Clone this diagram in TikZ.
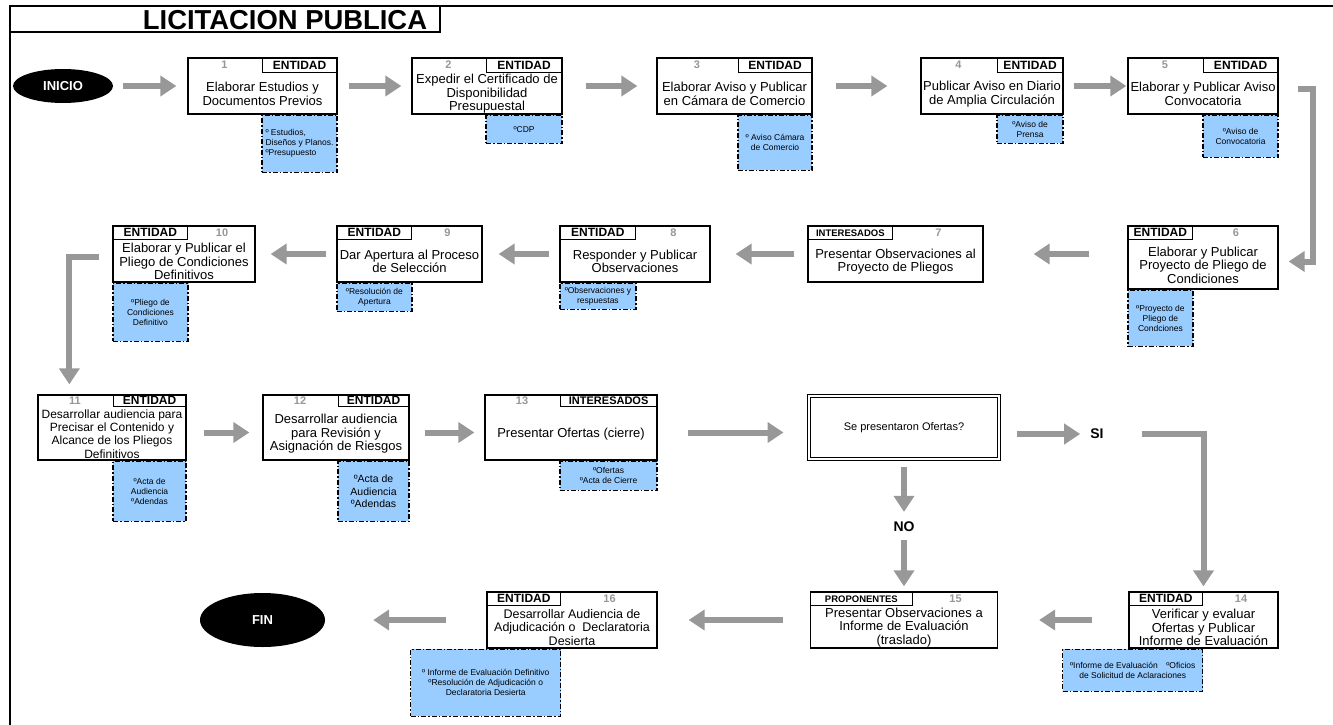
\documentclass[tikz,border=0pt]{standalone}
\usepackage{fontspec}
\setmainfont{Liberation Sans}
\usetikzlibrary{positioning,arrows.meta,shapes.geometric,backgrounds}
\definecolor{notefill}{RGB}{153,204,255}
\definecolor{arrgray}{RGB}{152,152,152}
\definecolor{numgray}{RGB}{150,150,150}

\begin{document}
\begin{tikzpicture}[x=1pt,y=-1pt,
    box/.style={draw,line width=1.3pt,inner sep=0pt},
    role/.style={draw,line width=1pt,inner sep=0pt,minimum height=14pt,font=\bfseries\fontsize{12}{12}\selectfont},
    num/.style={inner sep=0pt,minimum height=14pt,text=numgray,font=\bfseries\fontsize{11}{12}\selectfont},
    txt/.style={align=center,inner sep=0pt,font=\fontsize{13}{13.5}\selectfont},
    note/.style={draw,fill=notefill,line width=1.2pt,dash pattern=on 5pt off 2pt on 1.5pt off 2pt,inner sep=1pt,align=center,font=\fontsize{8.5}{10}\selectfont},
    flow/.style={draw=arrgray,line width=6pt,-{Triangle[length=16pt,width=20pt]}},
    term/.style={ellipse,fill=black,text=white,inner sep=0pt,font=\bfseries\fontsize{13}{13}\selectfont},
    answer/.style={inner sep=0pt,font=\bfseries\fontsize{14}{14}\selectfont}]
  \useasboundingbox (0,0) rectangle (1333,725);
  \draw[line width=2.5pt] (10,725) -- (10,6) -- (1333,6);
  \draw[line width=2pt] (10,32) -- (440,32) -- (440,6);
  \node[font=\bfseries\fontsize{27.4}{27.4}\selectfont] (title) at (285,20) {LICITACION PUBLICA};

  \node[term,minimum width=100pt,minimum height=34pt] (inicio) at (63,86) {INICIO};

  \node[box,minimum width=149pt,minimum height=56pt] (b1) at (262.5,86) {};
  \node[role,minimum width=75pt,minimum height=15pt,anchor=north east] (r1) at (b1.north east) {ENTIDAD};
  \path (b1.north west) -- (r1.north west) node[num,midway,anchor=north,minimum height=15pt] (k1) {1};
  \path (r1.south -| b1.center) -- (b1.south) node[txt,midway] (t1) {Elaborar Estudios y\\Documentos Previos};

  \node[box,minimum width=150pt,minimum height=56pt] (b2) at (487,86) {};
  \node[role,minimum width=76pt,minimum height=15pt,anchor=north east] (r2) at (b2.north east) {ENTIDAD};
  \path (b2.north west) -- (r2.north west) node[num,midway,anchor=north,minimum height=15pt] (k2) {2};
  \path (r2.south -| b2.center) -- (b2.south) node[txt,midway] (t2) {Expedir el Certificado de\\Disponibilidad\\Presupuestal};

  \node[box,minimum width=155pt,minimum height=56pt] (b3) at (734.5,86) {};
  \node[role,minimum width=74pt,minimum height=15pt,anchor=north east] (r3) at (b3.north east) {ENTIDAD};
  \path (b3.north west) -- (r3.north west) node[num,midway,anchor=north,minimum height=15pt] (k3) {3};
  \path (r3.south -| b3.center) -- (b3.south) node[txt,midway] (t3) {Elaborar Aviso y Publicar\\en Cámara de Comercio};

  \node[box,minimum width=142pt,minimum height=56pt] (b4) at (992,86) {};
  \node[role,minimum width=66pt,minimum height=15pt,anchor=north east] (r4) at (b4.north east) {ENTIDAD};
  \path (b4.north west) -- (r4.north west) node[num,midway,anchor=north,minimum height=15pt] (k4) {4};
  \path (r4.south -| b4.center) -- (b4.south) node[txt,midway] (t4) {Publicar Aviso en Diario\\de Amplia Circulación};

  \node[box,minimum width=150pt,minimum height=56pt] (b5) at (1203,86) {};
  \node[role,minimum width=75pt,minimum height=15pt,anchor=north east] (r5) at (b5.north east) {ENTIDAD};
  \path (b5.north west) -- (r5.north west) node[num,midway,anchor=north,minimum height=15pt] (k5) {5};
  \path (r5.south -| b5.center) -- (b5.south) node[txt,midway] (t5) {Elaborar y Publicar Aviso\\Convocatoria};

  \node[box,minimum width=150pt,minimum height=63pt] (b6) at (1203,257.5) {};
  \node[role,minimum width=65pt,anchor=north west] (r6) at (b6.north west) {ENTIDAD};
  \path (r6.north east) -- (b6.north east) node[num,midway,anchor=north] (k6) {6};
  \path (r6.south -| b6.center) -- (b6.south) node[txt,midway] (t6) {Elaborar y Publicar\\Proyecto de Pliego de\\Condiciones};

  \node[box,minimum width=175pt,minimum height=56pt] (b7) at (895.5,254) {};
  \node[role,minimum width=85pt,anchor=north west,font=\bfseries\fontsize{9.5}{10}\selectfont] (r7) at (b7.north west) {INTERESADOS};
  \path (r7.north east) -- (b7.north east) node[num,midway,anchor=north] (k7) {7};
  \path (r7.south -| b7.center) -- (b7.south) node[txt,midway] (t7) {Presentar Observaciones al\\Proyecto de Pliegos};

  \node[box,minimum width=150pt,minimum height=56pt] (b8) at (635,254) {};
  \node[role,minimum width=76pt,anchor=north west] (r8) at (b8.north west) {ENTIDAD};
  \path (r8.north east) -- (b8.north east) node[num,midway,anchor=north] (k8) {8};
  \path (r8.south -| b8.center) -- (b8.south) node[txt,midway] (t8) {Responder y Publicar\\Observaciones};

  \node[box,minimum width=145pt,minimum height=56pt] (b9) at (409.5,254) {};
  \node[role,minimum width=75pt,anchor=north west] (r9) at (b9.north west) {ENTIDAD};
  \path (r9.north east) -- (b9.north east) node[num,midway,anchor=north] (k9) {9};
  \path (r9.south -| b9.center) -- (b9.south) node[txt,midway] (t9) {Dar Apertura al Proceso\\de Selección};

  \node[box,minimum width=142pt,minimum height=56pt] (b10) at (184,254) {};
  \node[role,minimum width=75pt,anchor=north west] (r10) at (b10.north west) {ENTIDAD};
  \path (r10.north east) -- (b10.north east) node[num,midway,anchor=north] (k10) {10};
  \path (r10.south -| b10.center) -- (b10.south) node[txt,midway] (t10) {Elaborar y Publicar el\\Pliego de Condiciones\\Definitivos};

  \node[box,minimum width=148pt,minimum height=65pt] (b11) at (112,427.5) {};
  \node[role,minimum width=73pt,minimum height=12pt,anchor=north east] (r11) at (b11.north east) {ENTIDAD};
  \path (b11.north west) -- (r11.north west) node[num,midway,anchor=north,minimum height=12pt] (k11) {11};
  \path (r11.south -| b11.center) -- (b11.south) node[txt,midway,font=\fontsize{12}{13.2}\selectfont] (t11) {Desarrollar audiencia para\\Precisar el Contenido y\\Alcance de los Pliegos\\Definitivos};

  \node[box,minimum width=146pt,minimum height=65pt] (b12) at (336,427.5) {};
  \node[role,minimum width=71pt,minimum height=12pt,anchor=north east] (r12) at (b12.north east) {ENTIDAD};
  \path (b12.north west) -- (r12.north west) node[num,midway,anchor=north,minimum height=12pt] (k12) {12};
  \path (r12.south -| b12.center) -- (b12.south) node[txt,midway] (t12) {Desarrollar audiencia\\para Revisión y\\Asignación de Riesgos};

  \node[box,minimum width=172pt,minimum height=65pt] (b13) at (571,427.5) {};
  \node[role,minimum width=97pt,minimum height=12pt,anchor=north east,font=\bfseries\fontsize{11}{11}\selectfont] (r13) at (b13.north east) {INTERESADOS};
  \path (b13.north west) -- (r13.north west) node[num,midway,anchor=north,minimum height=12pt] (k13) {13};
  \path (r13.south -| b13.center) -- (b13.south) node[txt,midway] (t13) {Presentar Ofertas (cierre)};

  \node[draw,double,double distance=1.5pt,line width=1pt,minimum width=190pt,minimum height=63pt,font=\fontsize{11}{12}\selectfont] (q) at (904,427.5) {Se presentaron Ofertas?};
  \node[answer] (si) at (1097,434) {SI};
  \node[answer] (no) at (904,527) {NO};

  \node[box,minimum width=149pt,minimum height=56pt] (b14) at (1203.5,620) {};
  \node[role,minimum width=74pt,anchor=north west] (r14) at (b14.north west) {ENTIDAD};
  \path (r14.north east) -- (b14.north east) node[num,midway,anchor=north] (k14) {14};
  \path (r14.south -| b14.center) -- (b14.south) node[txt,midway] (t14) {Verificar y evaluar\\Ofertas y Publicar\\Informe de Evaluación};

  \node[box,minimum width=187pt,minimum height=56pt] (b15) at (904,620) {};
  \node[role,minimum width=102pt,anchor=north west,font=\bfseries\fontsize{9.5}{10}\selectfont] (r15) at (b15.north west) {PROPONENTES};
  \path (r15.north east) -- (b15.north east) node[num,midway,anchor=north] (k15) {15};
  \path (r15.south -| b15.center) -- (b15.south) node[txt,midway] (t15) {Presentar Observaciones a\\Informe de Evaluación\\(traslado)};

  \node[box,minimum width=170pt,minimum height=56pt] (b16) at (572,620) {};
  \node[role,minimum width=74pt,anchor=north west] (r16) at (b16.north west) {ENTIDAD};
  \path (r16.north east) -- (b16.north east) node[num,midway,anchor=north] (k16) {16};
  \path (r16.south -| b16.center) -- (b16.south) node[txt,midway,font=\fontsize{12.5}{13.5}\selectfont] (t16) {Desarrollar Audiencia de\\Adjudicación o~~Declaratoria\\Desierta};

  \node[term,minimum width=125pt,minimum height=54pt] (fin) at (262.5,620) {FIN};

  \draw[flow,shorten <=10pt,shorten >=11pt] (inicio) -- (b1);
  \draw[flow,shorten <=11pt,shorten >=10pt] (b1) -- (b2);
  \draw[flow,shorten <=23pt,shorten >=19pt] (b2) -- (b3);
  \draw[flow,shorten <=23pt,shorten >=33pt] (b3) -- (b4);
  \draw[flow,shorten <=10pt,shorten >=1pt] (b4) -- (b5);
  \draw[flow,shorten <=19pt,shorten >=10pt] ([yshift=-3pt]b5.east) -- ++(34,0) |- ([yshift=-4pt]b6.east);
  \draw[flow,shorten <=38pt,shorten >=50pt] (b7.east -| b6.west) -- (b7.east);
  \draw[flow,shorten <=13pt,shorten >=25pt] (b7) -- (b8);
  \draw[flow,shorten <=10pt,shorten >=16pt] (b8) -- (b9);
  \draw[flow,shorten <=10pt,shorten >=15pt] (b9) -- (b10);
  \draw[flow,shorten <=13pt,shorten >=10pt] ([yshift=-3pt]b10.west) -| ([xshift=32pt]b11.north west);
  \draw[flow,shorten <=17pt,shorten >=13pt] ([yshift=-5pt]b11.east) -- ([yshift=-5pt]b12.west);
  \draw[flow,shorten <=15pt,shorten >=10pt] ([yshift=-5pt]b12.east) -- ([yshift=-5pt]b13.west);
  \draw[flow,shorten <=30pt,shorten >=25pt] ([yshift=-5pt]b13.east) -- ([yshift=-5pt]q.west);
  \draw[flow,shorten <=17pt,shorten >=10pt] (q.east |- si) -- (si);
  \draw[flow,shorten <=38pt,shorten >=5pt] (si) -| (b14);
  \draw[flow,shorten <=7pt,shorten >=10pt] (q) -- (no);
  \draw[flow,shorten <=8pt,shorten >=5pt] (no) -- (b15);
  \draw[flow,shorten <=36pt,shorten >=41pt] (b14) -- (b15);
  \draw[flow,shorten <=27pt,shorten >=31pt] (b15) -- (b16);
  \draw[flow,shorten <=40pt,shorten >=48pt] (b16) -- (fin);

  \begin{scope}[on background layer]
    \node[note,minimum width=75pt,minimum height=57pt,anchor=north east,align=left] (n1) at (b1.south east) {º Estudios,\\Diseños y Planos.\\ºPresupuesto};
    \node[note,minimum width=76pt,minimum height=28pt,anchor=north east] (n2) at (b2.south east) {ºCDP};
    \node[note,minimum width=74pt,minimum height=55pt,anchor=north east] (n3) at (b3.south east) {º Aviso Cámara\\de Comercio};
    \node[note,minimum width=66pt,minimum height=28pt,anchor=north east] (n4) at (b4.south east) {ºAviso de\\Prensa};
    \node[note,minimum width=75pt,minimum height=42pt,anchor=north east] (n5) at (b5.south east) {ºAviso de\\Convocatoria};
    \node[note,minimum width=65pt,minimum height=56pt,anchor=north west] (n6) at (b6.south west) {ºProyecto de\\Pliego de\\Condciones};
    \node[note,minimum width=76pt,minimum height=26pt,anchor=north west] (n8) at (b8.south west) {ºObservaciones y\\respuestas};
    \node[note,minimum width=75pt,minimum height=28pt,anchor=north west] (n9) at (b9.south west) {ºResolución de\\Apertura};
    \node[note,minimum width=75pt,minimum height=58pt,anchor=north west] (n10) at (b10.south west) {ºPliego de\\Condiciones\\Definitivo};
    \node[note,minimum width=73pt,minimum height=60pt,anchor=north east] (n11) at (b11.south east) {ºActa de\\Audiencia\\ºAdendas};
    \node[note,minimum width=71pt,minimum height=60pt,anchor=north east,font=\fontsize{10.5}{12.5}\selectfont] (n12) at (b12.south east) {ºActa de\\Audiencia\\ºAdendas};
    \node[note,minimum width=97pt,minimum height=29pt,anchor=north east] (n13) at (b13.south east) {ºOfertas\\ºActa de Cierre};
    \node[note,minimum width=140pt,minimum height=42pt,anchor=north east] (n14) at (r14.east |- b14.south) {ºInforme de Evaluación\quad ºOficios\\de Solicitud de Aclaraciones};
    \node[note,minimum width=150pt,minimum height=67pt,anchor=north east] (n16) at (r16.east |- b16.south) {º Informe de Evaluación Definitivo\\ºResolución de Adjudicación o\\Declaratoria Desierta};
  \end{scope}
\end{tikzpicture}
\end{document}
